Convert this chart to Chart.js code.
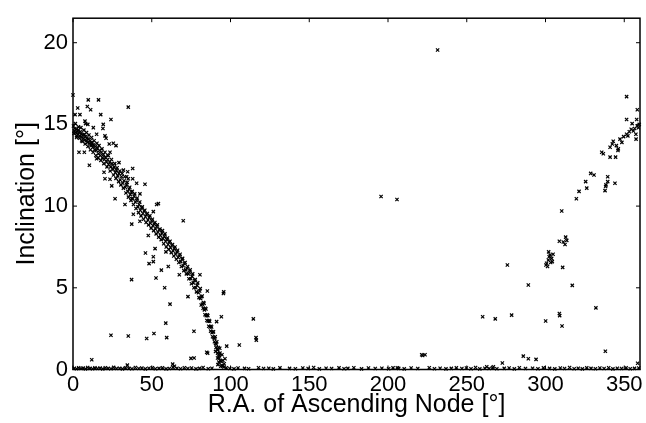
<!DOCTYPE html>
<html>
<head>
<meta charset="utf-8">
<script src="https://cdn.jsdelivr.net/npm/chart.js@4.4.1/dist/chart.umd.min.js"></script>
<style>
  html, body { margin: 0; padding: 0; background: #fff; }
  #wrap { width: 646px; height: 423px; }
</style>
</head>
<body>
<div id="wrap"><canvas id="nodeChart" width="646" height="423"></canvas></div>
<script>
// main branch: inclination falling with node from 0 to ~95 deg
const bandRA = [
  0.3, 0.8, 1.2, 1.7, 2.1, 2.6, 3.0, 3.3, 3.9, 4.4,
  4.8, 5.3, 5.7, 6.2, 6.6, 7.1, 7.5, 8.0, 8.4, 8.9,
  9.3, 9.8, 10.4, 10.9, 11.5, 12.0, 12.6, 13.1, 13.7, 14.2,
  14.9, 15.5, 16.1, 16.8, 17.4, 18.0, 18.7, 19.3, 20.0, 20.6,
  21.3, 22.0, 22.6, 23.3, 24.0, 24.7, 25.4, 26.1, 26.9, 27.6,
  28.4, 29.2, 30.0, 30.8, 31.6, 32.4, 33.2, 34.0, 34.8, 35.6,
  36.4, 37.2, 38.0, 38.8, 39.6, 40.4, 41.2, 42.0, 42.8, 43.6,
  44.4, 45.2, 46.0, 46.8, 47.6, 48.4, 49.2, 50.0, 50.8, 51.6,
  52.4, 53.2, 54.0, 54.8, 55.6, 56.4, 57.2, 58.0, 58.8, 59.6,
  60.4, 61.2, 62.0, 62.8, 63.6, 64.4, 65.2, 66.0, 66.8, 67.6,
  68.4, 69.2, 70.0, 70.8, 71.6, 72.4, 73.2, 74.0, 74.8, 75.6,
  76.4, 77.2, 78.0, 78.8, 79.6, 80.4, 81.0, 81.6, 82.2, 82.8,
  83.4, 84.0, 84.6, 85.2, 85.8, 86.4, 87.0, 87.6, 88.2, 88.8,
  89.4, 90.0, 90.5, 91.0, 91.5, 92.0, 92.5, 93.0, 93.5, 94.0,
  94.5, 95.0
];
const bandInc = [
  14.9, 14.6, 14.75, 14.5, 14.7, 14.55, 14.4, 14.65, 14.5, 14.3,
  14.55, 14.4, 14.2, 14.35, 14.15, 14.4, 14.05, 14.25, 14.0, 14.15,
  13.9, 14.1, 13.85, 14.0, 13.7, 13.9, 13.6, 13.75, 13.45, 13.65,
  13.4, 13.55, 13.2, 13.4, 13.1, 13.3, 12.95, 13.15, 12.85, 13.0,
  12.7, 12.85, 12.55, 12.7, 12.4, 12.6, 12.25, 12.4, 12.05, 12.2,
  11.85, 12.0, 11.6, 11.8, 11.4, 11.55, 11.15, 11.3, 10.9, 11.05,
  10.7, 10.85, 10.45, 10.6, 10.25, 10.35, 9.95, 10.1, 9.75, 9.9,
  9.55, 9.7, 9.35, 9.5, 9.15, 9.3, 8.95, 9.1, 8.8, 8.9,
  8.6, 8.75, 8.4, 8.55, 8.2, 8.35, 8.0, 8.15, 7.85, 7.95,
  7.65, 7.8, 7.45, 7.6, 7.25, 7.4, 7.05, 7.2, 6.85, 6.95,
  6.6, 6.75, 6.35, 6.5, 6.1, 6.2, 5.85, 5.95, 5.55, 5.7,
  5.3, 5.45, 5.0, 5.15, 4.7, 4.8, 4.35, 4.45, 4.0, 4.1,
  3.65, 3.75, 3.3, 3.35, 2.95, 3.0, 2.6, 2.65, 2.25, 2.3,
  1.95, 1.9, 1.6, 1.55, 1.25, 1.2, 0.9, 0.85, 0.55, 0.5,
  0.25, 0.2
];

// looser members either side of the main branch
const spreadRA = [
  0.6, 1.5, 2.4, 3.5, 4.1, 5.0, 5.9, 6.9, 7.7, 8.6,
  9.5, 10.1, 11.1, 11.8, 12.8, 13.4, 14.5, 15.2, 15.9, 16.5,
  17.7, 18.4, 19.6, 20.3, 21.6, 22.3, 23.6, 24.4, 25.7, 26.5,
  27.3, 28.0, 29.0, 29.7, 30.4, 31.2, 32.0, 32.8, 33.6, 34.4,
  35.2, 36.0, 36.8, 37.6, 38.4, 39.2, 40.0, 40.8, 41.6, 42.4,
  43.2, 44.0, 44.8, 45.6, 46.4, 47.2, 48.0, 48.8, 49.6, 50.4,
  51.2, 52.0, 52.8, 53.6, 54.4, 55.2, 56.0, 56.8, 57.6, 58.4,
  59.2, 60.0, 60.8, 61.6, 62.4, 63.2, 64.0, 64.8, 65.6, 66.4,
  67.2, 68.0, 68.8, 69.6, 70.4, 71.2, 72.0, 72.8, 73.6, 74.4,
  75.2, 76.0, 76.8, 77.6, 78.4, 79.2, 80.0, 80.8, 81.4, 82.0,
  82.6, 83.2, 83.8, 84.4, 85.0, 85.6, 86.2, 86.8, 87.4, 88.0,
  88.6, 89.2, 89.8, 90.3, 90.8, 91.3, 91.8, 92.3, 92.8, 93.3
];
const spreadInc = [
  14.45, 15.05, 14.3, 14.85, 14.15, 14.8, 13.95, 14.65, 13.8, 14.5,
  13.65, 14.35, 13.45, 14.2, 13.3, 14.0, 13.1, 13.85, 12.95, 13.7,
  12.8, 13.5, 12.6, 13.3, 12.4, 13.1, 12.15, 12.85, 11.9, 12.6,
  11.7, 12.35, 11.5, 12.15, 11.3, 12.0, 11.1, 11.8, 10.8, 11.45,
  10.55, 11.15, 10.35, 10.9, 10.1, 10.75, 9.85, 10.5, 9.6, 10.25,
  9.4, 9.95, 9.2, 9.75, 9.0, 9.55, 8.85, 9.4, 8.65, 9.2,
  8.5, 9.0, 8.3, 8.85, 8.1, 8.6, 7.95, 8.5, 7.7, 8.3,
  7.5, 8.05, 7.35, 7.85, 7.15, 7.65, 6.95, 7.5, 6.75, 7.3,
  6.55, 7.05, 6.3, 6.8, 6.05, 6.55, 5.85, 6.3, 5.55, 6.1,
  5.25, 5.85, 5.0, 5.5, 4.75, 5.3, 4.4, 4.95, 3.95, 4.5,
  3.75, 4.05, 3.35, 3.7, 3.0, 3.3, 2.65, 2.95, 2.35, 2.6,
  2.0, 2.3, 1.7, 2.0, 1.35, 1.7, 1.0, 1.35, 0.7, 1.0
];

// scattered objects around the main branch and in the middle
const strayRA = [
  0.0, 3.0, 9.7, 16.2, 9.1, 11.2, 35.1, 1.3, 4.4, 17.6,
  24.1, 7.6, 8.0, 9.4, 12.9, 19.2, 19.0, 15.0, 20.3, 2.3,
  5.5, 3.8, 7.2, 11.9, 15.0, 10.4, 21.0, 23.0, 25.6, 27.3,
  23.5, 22.4, 29.2, 32.0, 34.7, 37.9, 34.1, 35.1, 37.9, 19.7,
  20.3, 23.5, 24.6, 26.7, 45.7, 42.5, 37.3, 33.0, 53.1, 70.0,
  38.3, 51.0, 37.3, 42.5, 47.8, 46.0, 51.0, 52.1, 59.0, 48.3,
  51.0, 56.1, 52.7, 37.2, 58.2, 61.6, 58.9, 24.1, 35.1, 46.8,
  51.4, 59.5, 67.5, 73.0, 76.8, 80.6, 85.3, 95.7, 95.5, 94.2,
  91.2, 85.5, 97.6, 105.6, 114.5, 116.2, 116.4, 195.6, 205.7, 231.5,
  40.4, 54.2, 60.5, 74.9, 76.9, 63.3, 64.4, 34.5, 11.9, 96.5,
  90.5, 91.8, 92.6, 93.2, 94.6, 95.2, 93.8, 96.0, 92.0, 95.8,
  205.9, 222.0, 84.9
];
const strayInc = [
  16.8, 16.0, 16.5, 16.5, 16.1, 15.9, 16.06, 15.6, 15.6, 15.6,
  15.3, 15.2, 15.05, 15.0, 14.8, 15.0, 14.75, 14.4, 14.3, 14.2,
  14.0, 13.3, 13.3, 13.8, 12.9, 12.5, 14.15, 13.8, 13.85, 13.7,
  13.3, 13.1, 12.66, 12.2, 12.1, 12.3, 11.8, 11.67, 11.67, 12.07,
  11.67, 11.64, 11.24, 10.45, 11.34, 10.75, 10.45, 10.1, 10.1, 9.1,
  9.5, 9.66, 8.9, 9.07, 8.2, 7.13, 6.9, 7.4, 7.2, 6.48,
  6.6, 6.08, 5.6, 5.5, 5.0, 4.0, 2.84, 2.1, 2.05, 1.9,
  2.2, 1.95, 5.8, 4.46, 2.34, 5.8, 4.8, 4.75, 4.65, 3.23,
  2.93, 1.0, 1.43, 1.5, 3.1, 1.95, 1.8, 10.59, 10.4, 19.55,
  11.4, 10.15, 6.3, 0.68, 0.7, 0.33, 0.2, 0.27, 0.6, 0.66,
  1.1, 0.7, 0.45, 1.3, 0.9, 0.55, 0.2, 0.35, 0.3, 0.15,
  0.1, 0.86, 1.06
];

// second branch rising towards 360 deg
const eastRA = [
  359.0, 355.8, 351.5, 347.3, 343.0, 346.2, 341.0, 335.7, 336.7, 341.0,
  344.5, 346.0, 351.5, 358.3, 351.5, 357.9, 355.0, 357.5, 357.4, 328.7,
  330.8, 325.5, 326.2, 321.3, 319.6, 310.3, 339.5, 339.5, 338.4, 338.2,
  337.8, 344.1, 312.8, 311.3, 312.4, 308.8, 313.5, 302.9, 303.9, 301.8,
  300.3, 304.3, 300.7, 310.9, 275.8, 289.1, 317.0, 332.0, 260.1, 268.1,
  278.5, 300.1, 308.8, 309.0, 310.5, 338.0, 221.4, 223.5, 285.9, 289.1,
  294.0, 272.6, 358.5, 353.2, 354.4, 356.6, 358.2, 359.5, 352.3, 349.6,
  348.5, 345.0, 342.4, 302.3, 303.3, 301.3, 304.8, 302.0, 262.7, 266.9
];
const eastInc = [
  14.8, 14.6, 14.4, 14.1, 13.97, 13.5, 13.6, 13.3, 13.2, 13.0,
  13.0, 13.4, 16.7, 15.9, 15.3, 15.3, 15.05, 14.1, 14.4, 12.0,
  11.9, 11.5, 11.1, 10.9, 10.45, 9.7, 11.8, 11.5, 11.3, 11.2,
  10.95, 11.4, 8.1, 7.8, 7.65, 7.85, 7.9, 7.0, 6.8, 6.7,
  6.4, 6.6, 6.5, 6.25, 6.4, 5.17, 5.15, 3.77, 3.23, 3.1,
  3.33, 2.97, 3.43, 3.3, 2.66, 1.12, 0.9, 0.9, 0.82, 0.66,
  0.62, 0.4, 0.38, 14.55, 14.7, 14.75, 14.9, 15.0, 14.3, 14.25,
  13.9, 13.7, 13.8, 6.9, 6.55, 6.3, 7.05, 7.2, 0.17, 0.17
];

// near-equatorial objects along the bottom
const floorRA = [
  0.8, 2.2, 3.6, 5.1, 6.4, 7.9, 9.3, 10.8, 12.4, 13.9,
  15.6, 17.2, 18.9, 20.5, 22.3, 24.1, 25.8, 27.7, 29.6, 31.4,
  33.3, 35.5, 37.4, 39.6, 41.8, 43.7, 45.9, 48.2, 50.4, 52.3,
  54.6, 56.8, 59.1, 61.2, 63.5, 66.0, 68.3, 70.7, 72.9, 75.3,
  78.1, 80.4, 82.6, 85.9, 88.2, 97.3, 99.6, 102.2, 104.8, 108.9,
  111.5, 117.8, 121.0, 124.3, 127.2, 131.4, 137.5, 141.2, 145.9, 149.3,
  152.8, 156.4, 160.7, 164.2, 168.9, 172.1, 174.5, 178.3, 183.2, 187.6,
  191.9, 196.1, 200.4, 203.2, 206.8, 210.3, 214.7, 218.9, 226.2, 229.5,
  233.1, 236.8, 240.2, 243.4, 246.9, 249.8, 252.7, 255.6, 258.3, 261.5,
  264.2, 266.4, 269.1, 273.8, 276.9, 280.2, 283.4, 287.3, 291.8, 295.2,
  298.7, 302.6, 305.9, 309.4, 312.1, 315.3, 318.2, 320.8, 323.4, 326.2,
  328.9, 331.7, 334.5, 337.2, 340.1, 342.8, 345.6, 348.3, 351.2, 353.8,
  356.5, 359.2
];
const floorInc = [
  0.08, 0.05, 0.11, 0.06, 0.09, 0.04, 0.12, 0.07, 0.05, 0.10,
  0.06, 0.09, 0.04, 0.11, 0.07, 0.05, 0.13, 0.06, 0.08, 0.04,
  0.10, 0.07, 0.05, 0.12, 0.06, 0.09, 0.04, 0.08, 0.11, 0.05,
  0.07, 0.10, 0.04, 0.06, 0.13, 0.08, 0.05, 0.11, 0.06, 0.09,
  0.04, 0.07, 0.12, 0.05, 0.08, 0.10, 0.06, 0.04, 0.09, 0.07,
  0.05, 0.11, 0.06, 0.08, 0.04, 0.10, 0.07, 0.05, 0.09, 0.06,
  0.12, 0.04, 0.08, 0.06, 0.10, 0.05, 0.07, 0.11, 0.04, 0.09,
  0.06, 0.08, 0.05, 0.10, 0.07, 0.04, 0.09, 0.06, 0.11, 0.05,
  0.08, 0.04, 0.07, 0.10, 0.06, 0.09, 0.05, 0.12, 0.04, 0.08,
  0.06, 0.10, 0.05, 0.07, 0.09, 0.04, 0.11, 0.06, 0.08, 0.05,
  0.10, 0.07, 0.04, 0.09, 0.06, 0.12, 0.05, 0.08, 0.04, 0.10,
  0.07, 0.05, 0.09, 0.06, 0.11, 0.04, 0.08, 0.06, 0.10, 0.05,
  0.07, 0.09
];

const xTicks = [0, 50, 100, 150, 200, 250, 300, 350];
const yTicks = [0, 5, 10, 15, 20];

function pts(xs, ys) {
  return xs.map((x, i) => ({ x: x, y: ys[i] }));
}

function markSet(label, xs, ys) {
  return {
    label: label,
    data: pts(xs, ys),
    pointStyle: 'crossRot',
    pointRadius: 2.3,
    pointHoverRadius: 2.3,
    borderColor: '#000',
    backgroundColor: '#000',
    pointBorderWidth: 1.2,
    clip: false
  };
}

// box around the plot with inward ticks on all four sides
const boxTicks = {
  id: 'boxTicks',
  afterDraw(chart) {
    const { ctx, chartArea: a, scales } = chart;
    const len = 4;
    ctx.save();
    ctx.strokeStyle = '#000';
    ctx.lineWidth = 1;
    ctx.beginPath();
    xTicks.forEach(v => {
      const px = scales.x.getPixelForValue(v);
      ctx.moveTo(px, a.bottom); ctx.lineTo(px, a.bottom - len);
      ctx.moveTo(px, a.top); ctx.lineTo(px, a.top + len);
    });
    yTicks.forEach(v => {
      const py = scales.y.getPixelForValue(v);
      ctx.moveTo(a.left, py); ctx.lineTo(a.left + len, py);
      ctx.moveTo(a.right, py); ctx.lineTo(a.right - len, py);
    });
    ctx.stroke();
    ctx.lineWidth = 1.5;
    ctx.strokeRect(a.left, a.top, a.right - a.left, a.bottom - a.top);
    ctx.restore();
  }
};

const tickFont = { family: "'Liberation Sans', Arial, sans-serif", size: 22 };
const titleFont = { family: "'Liberation Sans', Arial, sans-serif", size: 25 };

new Chart(document.getElementById('nodeChart'), {
  type: 'scatter',
  data: {
    datasets: [
      markSet('floor', floorRA, floorInc),
      markSet('band', bandRA, bandInc),
      markSet('spread', spreadRA, spreadInc),
      markSet('stray', strayRA, strayInc),
      markSet('east', eastRA, eastInc)
    ]
  },
  options: {
    responsive: false,
    animation: false,
    layout: { padding: { left: 0, right: 6, top: 7, bottom: 0 } },
    plugins: {
      legend: { display: false },
      tooltip: { enabled: false }
    },
    scales: {
      x: {
        type: 'linear',
        min: 0,
        max: 360,
        afterBuildTicks: s => { s.ticks = xTicks.map(v => ({ value: v })); },
        afterFit: s => { s.height = 53.5; },
        grid: { display: false, drawTicks: false },
        border: { display: false },
        ticks: { color: '#000', font: tickFont, padding: 2, maxRotation: 0 },
        title: {
          display: true,
          text: 'R.A. of Ascending Node [°]',
          color: '#000',
          font: titleFont,
          padding: { top: 0, bottom: 3 }
        }
      },
      y: {
        type: 'linear',
        min: 0,
        max: 21.5,
        afterBuildTicks: s => { s.ticks = yTicks.map(v => ({ value: v })); },
        afterFit: s => { s.width = 73; },
        grid: { display: false, drawTicks: false },
        border: { display: false },
        ticks: { color: '#000', font: tickFont, padding: 5 },
        title: {
          display: true,
          text: 'Inclination [°]',
          color: '#000',
          font: titleFont,
          padding: { top: 12, bottom: 0 }
        }
      }
    }
  },
  plugins: [boxTicks]
});
</script>
</body>
</html>
